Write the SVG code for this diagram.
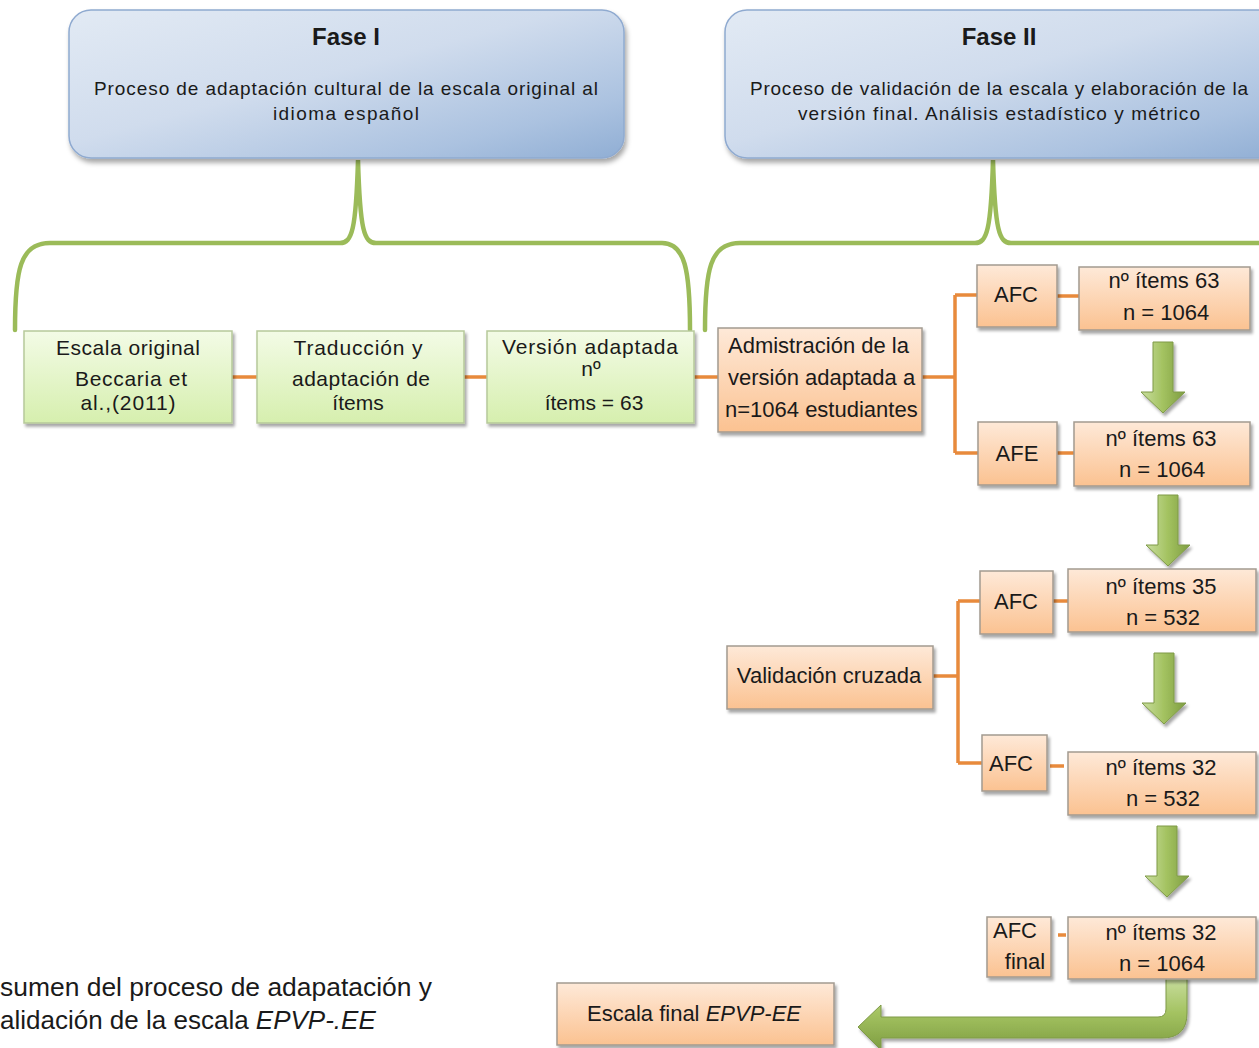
<svg xmlns="http://www.w3.org/2000/svg" width="1259" height="1048" viewBox="0 0 1259 1048">
<style>
text{font-family:"Liberation Sans",Arial,sans-serif;fill:#1a1a1a}
.t{font-size:22px;text-anchor:middle}
.tg{font-size:21px;text-anchor:middle}
.tl{font-size:22px}
.title{font-size:24px;font-weight:bold;text-anchor:middle}
.sub{font-size:19px;text-anchor:middle}
.cap{font-size:26px}
.phase{fill:url(#blueG);stroke:#8faad0;stroke-width:1.5;filter:url(#sh2)}
.gbox{fill:url(#greenG);stroke:#b6c99a;stroke-width:1.5;filter:url(#sh)}
.obox{fill:url(#orangeG);stroke:#a39a90;stroke-width:1.5;filter:url(#sh)}
.brace{fill:none;stroke:#9bbb59;stroke-width:4.5;stroke-linecap:round}
.conn{fill:none;stroke:#e88a3c;stroke-width:3.5}
.garrow{fill:url(#arrowG);stroke:#7f9a48;stroke-width:1;filter:url(#sh)}
</style>
<defs>
<linearGradient id="blueG" x1="0" y1="0" x2="1" y2="1">
<stop offset="0" stop-color="#e2eaf4"/>
<stop offset="0.45" stop-color="#d0dced"/>
<stop offset="0.8" stop-color="#abc2e0"/>
<stop offset="1" stop-color="#90aed4"/>
</linearGradient>
<linearGradient id="greenG" x1="0" y1="0" x2="0" y2="1">
<stop offset="0" stop-color="#f3fbe6"/>
<stop offset="1" stop-color="#d6efae"/>
</linearGradient>
<linearGradient id="orangeG" x1="0" y1="0" x2="0" y2="1">
<stop offset="0" stop-color="#fee9d8"/>
<stop offset="1" stop-color="#fbc291"/>
</linearGradient>
<linearGradient id="arrowG" x1="0" y1="0" x2="1" y2="0">
<stop offset="0" stop-color="#c9de9f"/>
<stop offset="0.5" stop-color="#a3c260"/>
<stop offset="1" stop-color="#7e9d42"/>
</linearGradient>
<linearGradient id="arrowGV" x1="0" y1="0" x2="0" y2="1">
<stop offset="0" stop-color="#c9de9f"/>
<stop offset="0.5" stop-color="#a3c260"/>
<stop offset="1" stop-color="#7e9d42"/>
</linearGradient>
<filter id="sh" x="-10%" y="-10%" width="130%" height="140%">
<feDropShadow dx="2" dy="3" stdDeviation="1.5" flood-color="#000" flood-opacity="0.35"/>
</filter>
<filter id="sh2" x="-10%" y="-10%" width="130%" height="140%">
<feDropShadow dx="2" dy="4" stdDeviation="2.5" flood-color="#000" flood-opacity="0.35"/>
</filter>
<path id="down" d="M-10,0 L10,0 L10,50 L22,50 L0,71 L-22,50 L-10,50 Z"/>
</defs>

<g id="connectors">
<path class="brace" d="M15,330 C15,270 20,243 50,243 L340,243 C352,243 356,230 358,160 C360,230 364,243 376,243 L662,243 C685,243 690,270 690,330"/>
<path class="brace" d="M705,330 C705,270 710,243 740,243 L975,243 C987,243 991,230 993,160 C995,230 999,243 1011,243 L1262,243"/>
<path class="conn" d="M232,377 H257 M464,377 H487 M694,377 H718"/>
<path class="conn" d="M922,377 H955 M955,295 V453 M955,295 H978 M955,453 H978"/>
<path class="conn" d="M1057,296 H1079 M1057,453 H1074"/>
<path class="conn" d="M933,676 H958 M958,601 V763 M958,601 H980 M958,763 H982"/>
<path class="conn" d="M1053,601 H1068 M1050,766 H1064 M1058,935 H1066"/>
<use href="#down" class="garrow" x="1163" y="342"/>
<use href="#down" class="garrow" x="1168" y="495"/>
<use href="#down" class="garrow" x="1164" y="653"/>
<use href="#down" class="garrow" x="1167" y="826"/>
<path class="garrow" style="fill:url(#arrowGV)" d="M1166,977 L1187,977 L1187,1013 Q1187,1038 1162,1038 L881,1038 L881,1050 L858,1027 L881,1005 L881,1017 L1158,1017 Q1166,1017 1166,1009 Z"/>
</g>

<g id="fase1">
<rect class="phase" x="69" y="10" width="555" height="148" rx="22"/>
<text class="title" x="346" y="45">Fase I</text>
<text class="sub" x="346" y="95" textLength="504" lengthAdjust="spacing">Proceso de adaptación cultural de la escala original al</text>
<text class="sub" x="346" y="120" textLength="146" lengthAdjust="spacing">idioma español</text>
</g>

<g id="fase2">
<rect class="phase" x="725" y="10" width="560" height="148" rx="22"/>
<text class="title" x="999" y="45">Fase II</text>
<text class="sub" x="999" y="95" textLength="498" lengthAdjust="spacing">Proceso de validación de la escala y elaboración de la</text>
<text class="sub" x="999" y="120" textLength="402" lengthAdjust="spacing">versión final. Análisis estadístico y métrico</text>
</g>

<g id="escala-original">
<rect class="gbox" x="24" y="331" width="208" height="92"/>
<text class="tg" x="128" y="355" textLength="144">Escala original</text>
<text class="tg" x="131" y="386" textLength="112">Beccaria et</text>
<text class="tg" x="128" y="410" textLength="95">al.,(2011)</text>
</g>

<g id="traduccion">
<rect class="gbox" x="257" y="331" width="207" height="92"/>
<text class="tg" x="358" y="355" textLength="129">Traducción y</text>
<text class="tg" x="361" y="386" textLength="138">adaptación de</text>
<text class="tg" x="358" y="410">ítems</text>
</g>

<g id="version-adaptada">
<rect class="gbox" x="487" y="331" width="207" height="92"/>
<text class="tg" x="590" y="354" textLength="176">Versión adaptada</text>
<text class="tg" x="591" y="376">nº</text>
<text class="tg" x="594" y="410">ítems  = 63</text>
</g>

<g id="administracion">
<rect class="obox" x="718" y="328" width="204" height="104"/>
<text class="tl" x="728" y="353">Admistración de la</text>
<text class="tl" x="728" y="385">versión adaptada a</text>
<text class="tl" x="725" y="417">n=1064 estudiantes</text>
</g>

<g id="afc1">
<rect class="obox" x="977" y="265" width="80" height="62"/>
<text class="t" x="1016" y="302">AFC</text>
</g>
<g id="res1">
<rect class="obox" x="1079" y="267" width="171" height="63"/>
<text class="t" x="1164" y="288">nº ítems 63</text>
<text class="t" x="1166" y="320">n = 1064</text>
</g>

<g id="afe">
<rect class="obox" x="978" y="422" width="79" height="63"/>
<text class="t" x="1017" y="461">AFE</text>
</g>
<g id="res2">
<rect class="obox" x="1074" y="422" width="176" height="64"/>
<text class="t" x="1161" y="446">nº ítems 63</text>
<text class="t" x="1162" y="477">n = 1064</text>
</g>

<g id="validacion">
<rect class="obox" x="727" y="646" width="206" height="63"/>
<text class="t" x="829" y="683">Validación cruzada</text>
</g>

<g id="afc2">
<rect class="obox" x="980" y="571" width="73" height="63"/>
<text class="t" x="1016" y="609">AFC</text>
</g>
<g id="res3">
<rect class="obox" x="1068" y="569" width="188" height="63"/>
<text class="t" x="1161" y="594">nº ítems 35</text>
<text class="t" x="1163" y="625">n = 532</text>
</g>

<g id="afc3">
<rect class="obox" x="982" y="735" width="65" height="56"/>
<text class="t" x="1011" y="771">AFC</text>
</g>
<g id="res4">
<rect class="obox" x="1068" y="752" width="188" height="63"/>
<text class="t" x="1161" y="775">nº ítems 32</text>
<text class="t" x="1163" y="806">n = 532</text>
</g>

<g id="afc-final">
<rect class="obox" x="987" y="917" width="64" height="60"/>
<text class="t" x="1015" y="938">AFC</text>
<text class="t" x="1025" y="969">final</text>
</g>
<g id="res5">
<rect class="obox" x="1068" y="917" width="188" height="62"/>
<text class="t" x="1161" y="940">nº ítems 32</text>
<text class="t" x="1162" y="971">n = 1064</text>
</g>

<g id="escala-final">
<rect class="obox" x="557" y="983" width="277" height="62"/>
<text class="t" x="694" y="1021">Escala final <tspan font-style="italic">EPVP-EE</tspan></text>
</g>

<g id="caption">
<text class="cap" x="0" y="996" textLength="432" lengthAdjust="spacingAndGlyphs">sumen del proceso de adapatación y</text>
<text class="cap" x="0" y="1029">alidación de la escala <tspan font-style="italic">EPVP-.EE</tspan></text>
</g>
</svg>
